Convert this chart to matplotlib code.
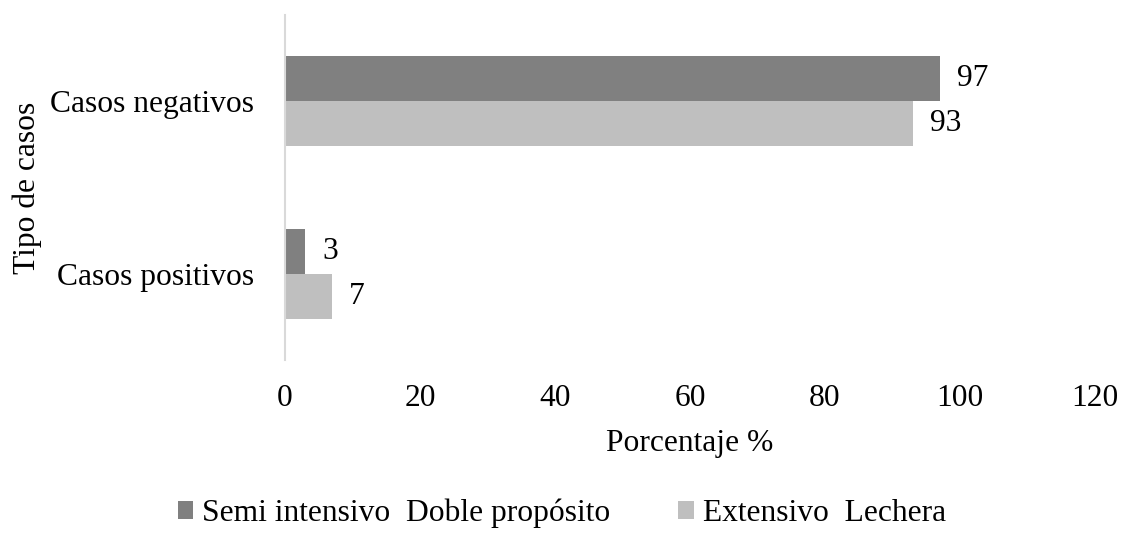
import matplotlib.pyplot as plt
import numpy as np

plt.rcParams['font.family'] = ['Liberation Serif', 'DejaVu Serif']

categorias = ['Casos positivos', 'Casos negativos']
semi_intensivo = [3, 97]
extensivo = [7, 93]
series_nombres = ['Semi intensivo  Doble propósito', 'Extensivo  Lechera']

FS = 22.7

fig = plt.figure(figsize=(11.24, 5.35), dpi=100)
ax = fig.add_axes([0.2536, 0.327, 0.7206, 0.645])

y = np.arange(len(categorias))
h = 0.26
b1 = ax.barh(y + h/2, semi_intensivo, height=h, color='#808080', label=series_nombres[0])
b2 = ax.barh(y - h/2, extensivo, height=h, color='#bfbfbf', label=series_nombres[1])

# etiquetas de valor
for bars, vals in ((b1, semi_intensivo), (b2, extensivo)):
    for bar, v in zip(bars, vals):
        ax.text(v + 2.5, bar.get_y() + bar.get_height()/2, str(v),
                va='center', ha='left', fontsize=FS)

ax.set_xlim(0, 120)
ax.set_ylim(-0.5, 1.5)
ax.set_xticks(range(0, 121, 20))
ax.set_yticks(y)
ax.set_yticklabels(categorias)
ax.tick_params(axis='both', length=0, labelsize=FS)
ax.tick_params(axis='x', pad=17)
ax.tick_params(axis='y', pad=22)

for s in ['top', 'right', 'bottom']:
    ax.spines[s].set_visible(False)
ax.spines['left'].set_color('#d9d9d9')
ax.spines['left'].set_linewidth(1.5)

ax.set_xlabel('Porcentaje %', fontsize=FS, labelpad=12)
ax.set_ylabel('Tipo de casos', fontsize=FS, labelpad=6)

fig.legend(handles=[b1, b2], loc='center', bbox_to_anchor=(0.5, 0.04),
           ncol=2, frameon=False, fontsize=FS, handlelength=0.48,
           handleheight=0.48, handletextpad=0.3, columnspacing=2.15)

fig.savefig('out.png', dpi=100)
